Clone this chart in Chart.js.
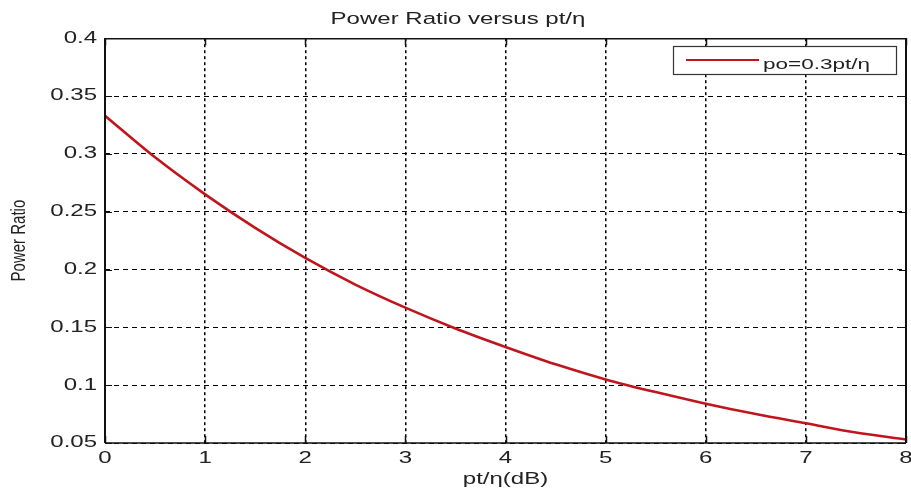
<!DOCTYPE html>
<html><head><meta charset="utf-8">
<script src="https://cdn.jsdelivr.net/npm/chart.js@4/dist/chart.umd.min.js"></script>
<style>html,body{margin:0;padding:0;background:#fff}#wrap{width:911px;height:491px}</style>
</head><body><div id="wrap"><canvas id="c" width="911" height="491"></canvas></div>
<script>
const xValues = [0,0.5,1,1.5,2,2.5,3,3.5,4,4.5,5,5.5,6,6.5,7,7.5,8];
const powerRatio = [0.333,0.297,0.265,0.236,0.210,0.187,0.167,0.149,0.133,0.118,0.105,0.094,0.084,0.075,0.067,0.059,0.053];
const xTicks = [0,1,2,3,4,5,6,7,8];
const yTicks = [0.05,0.1,0.15,0.2,0.25,0.3,0.35,0.4];
const seriesLabel = 'po=0.3pt/η';
const titleText = 'Power Ratio versus pt/η';
const xTitle = 'pt/η(dB)';
const yTitle = 'Power Ratio';

const FONT = '"Liberation Sans", Arial, sans-serif';
const canvas = document.getElementById('c');
const ctx0 = canvas.getContext('2d');
// the reference picture is stretched horizontally: draw text wider to match
const SX = 1.5;
const origFill = ctx0.fillText.bind(ctx0);
ctx0.fillText = function(text, x, y, maxW){
  const m = this.getTransform();
  this.save();
  this.translate(x, y);
  if (Math.abs(m.b) > 0.01) this.scale(1, 1.35); else this.scale(SX, 1);
  if (maxW !== undefined) origFill(text, 0, 0, maxW); else origFill(text, 0, 0);
  this.restore();
};

const framePlugin = {
  id:'frame',
  afterDraw(chart){
    const {ctx, chartArea:a, scales} = chart;
    ctx.save();
    ctx.strokeStyle='#111'; ctx.setLineDash([]);
    ctx.lineWidth=1.5;
    ctx.beginPath();
    scales.x.ticks.forEach(t=>{const px=Math.round(scales.x.getPixelForValue(t.value))+0.5;
      ctx.moveTo(px,a.bottom);ctx.lineTo(px,a.bottom-7);ctx.moveTo(px,a.top);ctx.lineTo(px,a.top+7);});
    ctx.stroke();
    ctx.lineWidth=1.2;
    ctx.beginPath();
    scales.y.ticks.forEach(t=>{const py=Math.round(scales.y.getPixelForValue(t.value))+0.5;
      ctx.moveTo(a.left,py);ctx.lineTo(a.left+7,py);ctx.moveTo(a.right,py);ctx.lineTo(a.right-7,py);});
    ctx.stroke();
    // frame
    ctx.lineWidth=1.5;
    ctx.beginPath();
    ctx.moveTo(a.left,a.top+0.5);ctx.lineTo(a.right,a.top+0.5);
    ctx.moveTo(a.left,a.bottom);ctx.lineTo(a.right,a.bottom);
    ctx.stroke();
    ctx.lineWidth=2;
    ctx.beginPath();
    ctx.moveTo(a.left,a.top);ctx.lineTo(a.left,a.bottom);
    ctx.moveTo(a.right,a.top);ctx.lineTo(a.right,a.bottom);
    ctx.stroke();
    // legend
    const ds = chart.data.datasets[0];
    const bx=673, by=46, bw=223, bh=28;
    ctx.fillStyle='#fff'; ctx.fillRect(bx,by,bw,bh);
    ctx.strokeStyle='#333'; ctx.lineWidth=1.2; ctx.strokeRect(bx+0.5,by+0.5,bw,bh);
    ctx.strokeStyle=ds.borderColor; ctx.lineWidth=2;
    ctx.beginPath(); ctx.moveTo(bx+13,by+14); ctx.lineTo(bx+86,by+14); ctx.stroke();
    ctx.fillStyle='#222'; ctx.font='15px '+FONT;
    ctx.textBaseline='alphabetic'; ctx.textAlign='left';
    ctx.fillText(ds.label,bx+90,by+23);
    ctx.restore();
  }
};

new Chart(canvas,{
  type:'line',
  data:{datasets:[{label:seriesLabel,data:xValues.map((x,i)=>({x:x,y:powerRatio[i]})),
    borderColor:'#c0151d',borderWidth:2.6,pointRadius:0,tension:0.4,cubicInterpolationMode:'monotone',fill:false}]},
  options:{
    responsive:false,animation:false,
    layout:{padding:{left:10,right:5,top:0,bottom:0}},
    plugins:{
      legend:{display:false},tooltip:{enabled:false},
      title:{display:true,text:titleText,color:'#222',font:{family:FONT,size:16,weight:'normal'},padding:{top:10,bottom:9}}
    },
    scales:{
      x:{type:'linear',min:0,max:8,
        afterBuildTicks(s){s.ticks=xTicks.map(v=>({value:v}));},
        afterFit(s){s.height=48; s.paddingRight=0; s.paddingLeft=0;},
        grid:{color:'#000',lineWidth:1.5,drawTicks:false},
        border:{display:false,dash:[3,3]},
        ticks:{color:'#222',font:{family:FONT,size:16},padding:6,maxRotation:0,autoSkip:false},
        title:{display:true,text:xTitle,color:'#222',font:{family:FONT,size:16},padding:{top:0,bottom:2}}
      },
      y:{min:0.05,max:0.4,
        afterBuildTicks(s){s.ticks=yTicks.map(v=>({value:v}));},
        afterFit(s){s.width=95; s.paddingTop=0; s.paddingBottom=0;},
        grid:{color:'#000',lineWidth:1,drawTicks:false},
        border:{display:false,dash:[5,4]},
        ticks:{color:'#222',font:{family:FONT,size:16},padding:8,autoSkip:false,
          callback:v=>String(+v.toFixed(2))},
        title:{display:true,text:yTitle,color:'#222',font:{family:FONT,size:15},padding:{top:0,bottom:0}}
      }
    }
  },
  plugins:[framePlugin]
});
</script></body></html>
